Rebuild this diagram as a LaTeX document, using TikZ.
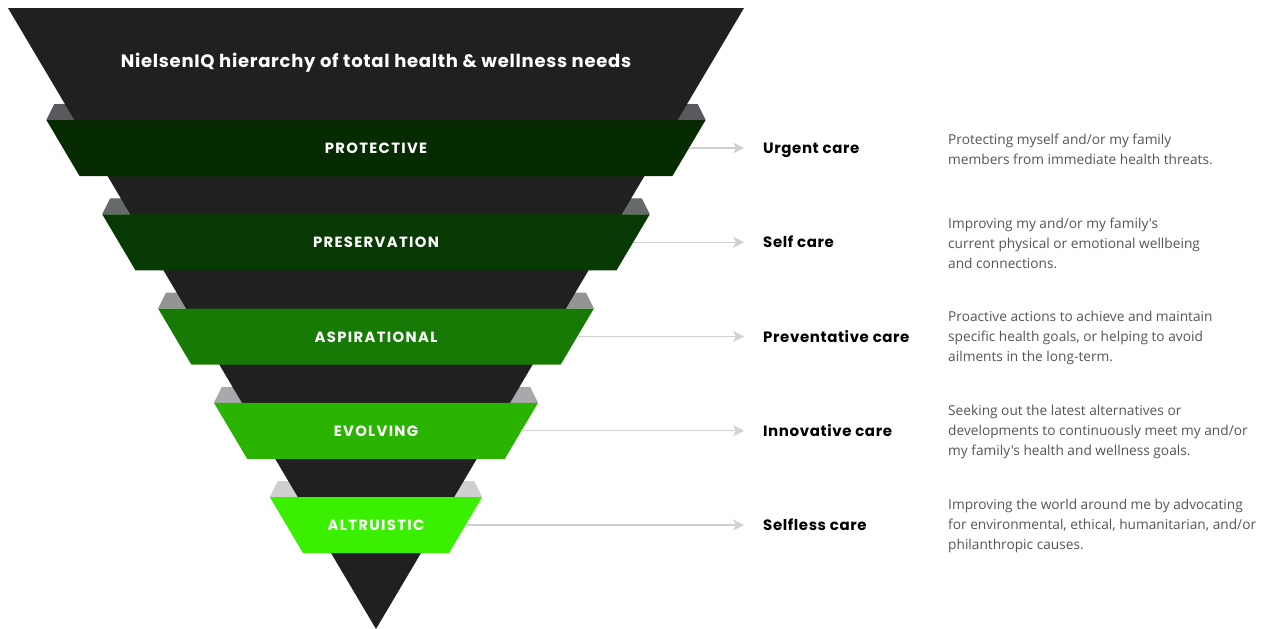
\documentclass[tikz,border=0pt]{standalone}
\usepackage{fontspec}
\setmainfont{Poppins}
\newfontfamily\descfont{Open Sans}
\newfontfamily\widefont[LetterSpace=4]{Poppins}
\newfontfamily\capsfont[LetterSpace=9]{Poppins}
\usetikzlibrary{arrows.meta}
\definecolor{funnel}{HTML}{202020}
\definecolor{bandA}{HTML}{072B00}
\definecolor{bandB}{HTML}{073902}
\definecolor{bandC}{HTML}{167A04}
\definecolor{bandD}{HTML}{2AB300}
\definecolor{bandE}{HTML}{3AF000}
\definecolor{ledgeA}{HTML}{59585D}
\definecolor{ledgeB}{HTML}{666A6A}
\definecolor{ledgeC}{HTML}{949496}
\definecolor{ledgeD}{HTML}{A9A9AD}
\definecolor{ledgeE}{HTML}{CFCFD0}
\definecolor{pointer}{HTML}{CDD3D3}
\definecolor{desc}{HTML}{555555}
\tikzset{
  titletext/.style={text=white, font=\widefont\bfseries\fontsize{18}{20}\selectfont},
  bandtext/.style={text=white, font=\capsfont\bfseries\fontsize{14.8}{16}\selectfont},
  caretext/.style={anchor=base west, inner sep=0pt, text=black, font=\widefont\bfseries\fontsize{15}{17}\selectfont},
  desctext/.style={anchor=west, inner sep=0pt, text=desc, align=left, font=\descfont\fontsize{13.7}{20}\selectfont},
  pointerline/.style={draw=pointer, line width=1.4pt, -{Stealth[length=11pt,width=11pt,inset=3pt]}},
}
\begin{document}
\begin{tikzpicture}[x=1pt,y=-1pt]
\useasboundingbox (0,0) rectangle (1261,629);
% half width of the funnel at height y, and the band outline offset
\pgfmathdeclarefunction{hw}{1}{\pgfmathparse{0.592593*(629-#1)}}
\def\bandout{28}
% grey top faces of the bands, behind the funnel
\foreach \i/\lc in {0/ledgeA,1/ledgeB,2/ledgeC,3/ledgeD,4/ledgeE}{
  \pgfmathsetmacro\yt{120+94.25*\i}
  \pgfmathsetmacro\w{hw(\yt)+\bandout}
  \fill[\lc] ({376-\w},\yt) -- ({376-\w+8},\yt-16) -- ({376+\w-8},\yt-16) -- ({376+\w},\yt) -- cycle;
}
% the funnel
\fill[funnel] (8,8) -- (744,8) -- (376,629) -- cycle;
\node[titletext] (title) at (376,63) {NielsenIQ hierarchy of total health \& wellness needs};
% bands, arrows and texts
\foreach \i/\bc/\name/\care/\txt in {
  0/bandA/PROTECTIVE/Urgent care/{Protecting myself and/or my family\\members from immediate health threats.},
  1/bandB/PRESERVATION/Self care/{Improving my and/or my family's\\current physical or emotional wellbeing\\and connections.},
  2/bandC/ASPIRATIONAL/Preventative care/{Proactive actions to achieve and maintain\\specific health goals, or helping to avoid\\ailments in the long-term.},
  3/bandD/EVOLVING/Innovative care/{Seeking out the latest alternatives or\\developments to continuously meet my and/or\\my family's health and wellness goals.},
  4/bandE/ALTRUISTIC/Selfless care/{Improving the world around me by advocating\\for environmental, ethical, humanitarian, and/or\\philanthropic causes.}}{
  \pgfmathsetmacro\yt{120+94.25*\i}
  \pgfmathsetmacro\yb{\yt+56}
  \pgfmathsetmacro\ym{\yt+28}
  \pgfmathsetmacro\wt{hw(\yt)+\bandout}
  \pgfmathsetmacro\wb{hw(\yb)+\bandout}
  \pgfmathsetmacro\wm{hw(\ym)+\bandout}
  \fill[\bc] ({376-\wt},\yt) -- ({376+\wt},\yt) -- ({376+\wb},\yb) -- ({376-\wb},\yb) -- cycle;
  \node[bandtext] (band\i) at (376,\ym+0.5) {\name};
  \coordinate (edge\i) at ({376+\wm},\ym);
  \coordinate (tip\i) at (744,\ym);
  \draw[pointerline] (edge\i) -- (tip\i);
  \node[caretext] (care\i) at (763,\ym+5.5) {\care};
  \node[desctext] (desc\i) at (948,\ym+1) {\txt};
}
\end{tikzpicture}
\end{document}
